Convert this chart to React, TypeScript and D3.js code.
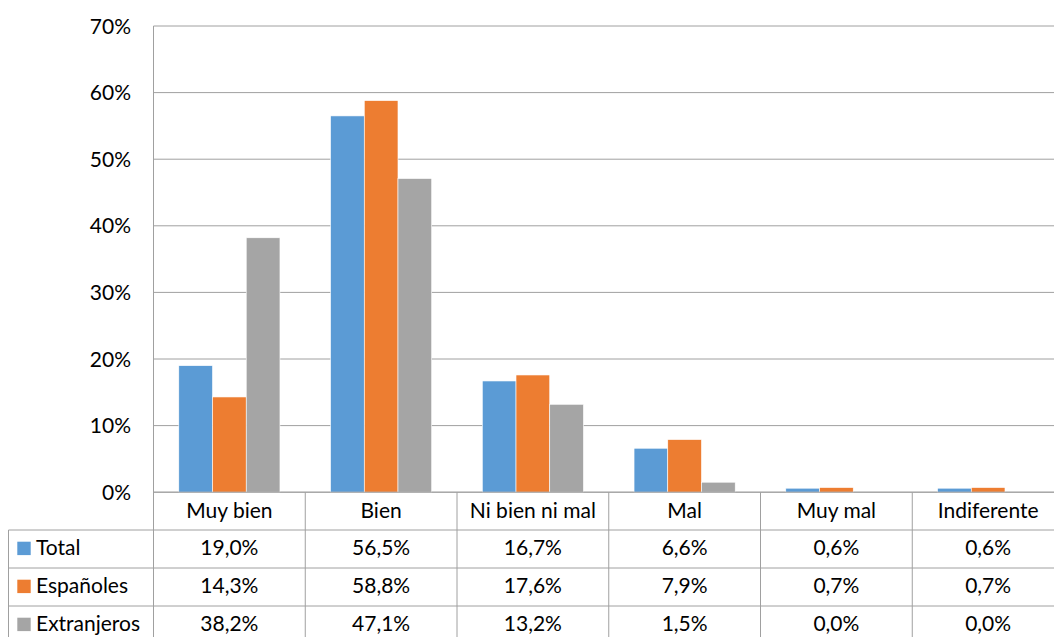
import React from "react";
import * as d3 from "d3";

const categories = ["Muy bien", "Bien", "Ni bien ni mal", "Mal", "Muy mal", "Indiferente"];
const seriesNames = ["Total", "Españoles", "Extranjeros"];
const totalValues = [19.0, 56.5, 16.7, 6.6, 0.6, 0.6];
const espanolesValues = [14.3, 58.8, 17.6, 7.9, 0.7, 0.7];
const extranjerosValues = [38.2, 47.1, 13.2, 1.5, 0.0, 0.0];
const seriesColors = ["#5B9BD5", "#ED7D31", "#A5A5A5"];
const yTicks = [0, 10, 20, 30, 40, 50, 60, 70];

const W = 1054;
const H = 637;
const FONT = "Lato, 'Open Sans', sans-serif";

export default function App() {
  const seriesValues = [totalValues, espanolesValues, extranjerosValues];
  const left = 153.5;
  const right = 1064;
  const top = 26;
  const bottom = 492.2;
  const y = d3.scaleLinear().domain([0, 70]).range([bottom, top]);
  const x = d3.scaleBand<string>().domain(categories).range([left, right]).paddingInner(0).paddingOuter(0);
  const xi = d3
    .scaleBand<string>()
    .domain(seriesNames)
    .range([0, x.bandwidth()])
    .paddingInner(0)
    .paddingOuter(0.75);
  const locale = d3.formatLocale({ decimal: ",", thousands: ".", grouping: [3], currency: ["", "€"] });
  const fmt = locale.format(".1f");

  const rowH = 38;
  const catRowTop = bottom;
  const rowTops = [530, 568, 606];
  const tableLeft = 8.5;
  const lineColor = "#A0A0A0";
  const fs = 21;
  const baseOff = 25;

  return (
    <svg
      width={W}
      height={H}
      style={{ position: "absolute", left: 0, top: 0, background: "#fff" }}
      fontFamily={FONT}
    >
      <rect x={0} y={0} width={W} height={H} fill="#fff" />
      {yTicks.map((t) => (
        <line key={"g" + t} x1={left} x2={right} y1={y(t)} y2={y(t)} stroke={lineColor} strokeWidth={1} />
      ))}
      {yTicks.map((t) => (
        <text key={"yl" + t} x={131} y={y(t) + 7.5} textAnchor="end" fontSize={fs} fill="#000">
          {t + "%"}
        </text>
      ))}
      {categories.map((c, ci) =>
        seriesNames.map((s, si) => {
          const v = seriesValues[si][ci];
          const bx = (x(c) as number) + (xi(s) as number);
          return (
            <rect
              key={c + s}
              x={bx}
              y={y(v)}
              width={xi.bandwidth()}
              height={bottom - y(v)}
              fill={seriesColors[si]}
              stroke="#fff"
              strokeWidth={0.6}
            />
          );
        })
      )}
      <line x1={left} x2={left} y1={top} y2={H + 10} stroke={lineColor} strokeWidth={1} />
      <line x1={left} x2={right} y1={bottom} y2={bottom} stroke={lineColor} strokeWidth={1} />
      {rowTops.map((ry, i) => (
        <line key={"rl" + i} x1={tableLeft} x2={right} y1={ry} y2={ry} stroke={lineColor} strokeWidth={1} />
      ))}
      <line x1={tableLeft} x2={tableLeft} y1={rowTops[0]} y2={H + 10} stroke={lineColor} strokeWidth={1} />
      {categories.map((c, ci) => {
        const cx = (x(c) as number) + x.bandwidth();
        return <line key={"cl" + ci} x1={cx} x2={cx} y1={bottom} y2={H + 10} stroke={lineColor} strokeWidth={1} />;
      })}
      {categories.map((c) => (
        <text
          key={"cat" + c}
          x={(x(c) as number) + x.bandwidth() / 2}
          y={catRowTop + 26}
          textAnchor="middle"
          fontSize={fs}
          fill="#000"
        >
          {c}
        </text>
      ))}
      {seriesNames.map((s, si) => (
        <g key={"leg" + s}>
          <rect x={17.3} y={rowTops[si] + baseOff - 13.3} width={13.4} height={13.4} fill={seriesColors[si]} />
          <text x={36} y={rowTops[si] + baseOff} fontSize={fs} fill="#000">
            {s}
          </text>
        </g>
      ))}
      {seriesNames.map((s, si) =>
        categories.map((c, ci) => (
          <text
            key={"v" + s + c}
            x={(x(c) as number) + x.bandwidth() / 2}
            y={rowTops[si] + baseOff}
            textAnchor="middle"
            fontSize={fs}
            fill="#000"
          >
            {fmt(seriesValues[si][ci]) + "%"}
          </text>
        ))
      )}
    </svg>
  );
}
